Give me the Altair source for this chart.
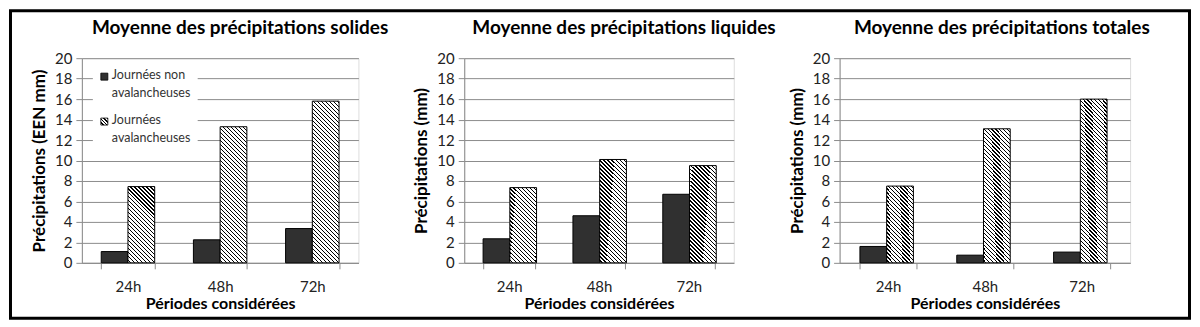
import math
import altair as alt
import pandas as pd

# ---------------- data ----------------
periods = ["24h", "48h", "72h"]
series_names = ["Journées non avalancheuses", "Journées avalancheuses"]
legend_labels = ["Journées non\navalancheuses", "Journées\navalancheuses"]

titles = [
    "Moyenne des précipitations solides",
    "Moyenne des précipitations liquides",
    "Moyenne des précipitations totales",
]
y_titles = ["Précipitations (EEN mm)", "Précipitations (mm)", "Précipitations (mm)"]
x_title = "Périodes considérées"

solid_non = [1.1, 2.25, 3.35]
solid_aval = [7.45, 13.3, 15.8]
liquid_non = [2.35, 4.6, 6.7]
liquid_aval = [7.35, 10.1, 9.5]
total_non = [1.6, 0.75, 1.05]
total_aval = [7.5, 13.1, 16.0]

y_ticks = list(range(0, 21, 2))

# ---------------- style ----------------
FONT = "Lato"
GRID = "#8c8c8c"
DARK = "#303030"
PLOT_H = 205
WIDTHS = [277, 270, 291]
TITLE_DX = [20, 25, 17]
PAD_IN = 0.42
PAD_OUT = 0.21
SPACING = 106


def hatch(w, h, period=2.828, line=1.0):
    """Diagonal '\\' hatch built as a hard-stop linear gradient for a w x h box."""
    L = (w + h) / math.sqrt(2)
    t = (w + h) / (w * w + h * h)
    stops = [alt.GradientStop(offset=0, color="white")]
    s = period / 2
    while s < L:
        a = s / L
        b = min((s + line) / L, 1.0)
        stops += [
            alt.GradientStop(offset=a, color="white"),
            alt.GradientStop(offset=a, color="black"),
            alt.GradientStop(offset=b, color="black"),
            alt.GradientStop(offset=b, color="white"),
        ]
        s += period
    stops.append(alt.GradientStop(offset=1, color="white"))
    return alt.LinearGradient(
        gradient="linear", stops=stops, x1=0, y1=1, x2=t * w, y2=1 - t * h
    )


def panel(i, non, aval):
    W = WIDTHS[i]
    df = pd.DataFrame(
        {
            "period": periods * 2,
            "series": [series_names[0]] * 3 + [series_names[1]] * 3,
            "value": list(non) + list(aval),
        }
    )
    x = alt.X(
        "period:N",
        scale=alt.Scale(domain=periods, paddingInner=PAD_IN, paddingOuter=PAD_OUT),
        axis=alt.Axis(
            title=x_title,
            labelAngle=0,
            tickBand="extent",
            ticks=True,
            tickSize=6,
            tickColor=GRID,
            domainColor=GRID,
            labelFontSize=15,
            labelColor="#222222",
            labelPadding=11,
            titleFontSize=16,
            titleFontWeight="bold",
            titleColor="black",
            titlePadding=1,
            grid=False,
        ),
    )
    xo = alt.XOffset("series:N", scale=alt.Scale(domain=series_names))
    y = alt.Y(
        "value:Q",
        scale=alt.Scale(domain=[0, 20], nice=False),
        axis=alt.Axis(
            title=y_titles[i],
            values=y_ticks,
            grid=True,
            gridColor=GRID,
            domainColor=GRID,
            tickColor=GRID,
            tickSize=6,
            labelFontSize=15,
            labelColor="#222222",
            labelPadding=4,
            titleFontSize=17,
            titleFontWeight="bold",
            titleColor="black",
            titlePadding=6,
        ),
    )
    base = alt.Chart(df).encode(x=x, xOffset=xo, y=y)

    layers = [
        base.transform_filter(alt.datum.series == series_names[0]).mark_bar(
            fill=DARK, stroke="black", strokeWidth=1
        )
    ]
    bar_w = W / 3 * (1 - PAD_IN) / 2
    for p, v in zip(periods, aval):
        h = max(v / 20 * PLOT_H, 1)
        layers.append(
            base.transform_filter(
                (alt.datum.series == series_names[1]) & (alt.datum.period == p)
            ).mark_bar(fill=hatch(bar_w, h), stroke="black", strokeWidth=1)
        )

    # panel title as a text mark
    layers.append(
        alt.Chart(pd.DataFrame({"title": [titles[i]]}))
        .mark_text(
            align="center",
            baseline="middle",
            fontSize=19,
            fontWeight="bold",
            font=FONT,
            color="black",
        )
        .encode(text="title:N", x=alt.value(W / 2 + TITLE_DX[i]), y=alt.value(-30))
    )

    if i == 0:
        one = pd.DataFrame({"k": [0]})
        # legend background covering the grid
        layers.append(
            alt.Chart(one)
            .mark_rect(fill="white")
            .encode(x=alt.value(11), x2=alt.value(116), y=alt.value(9), y2=alt.value(91))
        )
        # legend symbols
        layers.append(
            alt.Chart(one)
            .mark_rect(fill=DARK, stroke="black", strokeWidth=0.8)
            .encode(x=alt.value(19), x2=alt.value(26), y=alt.value(15), y2=alt.value(22))
        )
        layers.append(
            alt.Chart(one)
            .mark_rect(fill=hatch(7, 7, 2.6, 1.0), stroke="black", strokeWidth=0.8)
            .encode(x=alt.value(19), x2=alt.value(26), y=alt.value(60), y2=alt.value(67))
        )
        for lab, ty in zip(legend_labels, [11, 56]):
            layers.append(
                alt.Chart(pd.DataFrame({"label": [lab]}))
                .mark_text(
                    align="left",
                    baseline="top",
                    fontSize=12.5,
                    font=FONT,
                    color="#333333",
                    lineBreak="\n",
                    lineHeight=18,
                )
                .encode(text="label:N", x=alt.value(30), y=alt.value(ty))
            )
        # outer frame around the whole figure
        layers.append(
            alt.Chart(one)
            .mark_rect(fill="transparent", stroke="black", strokeWidth=3)
            .encode(
                x=alt.value(-71.5),
                x2=alt.value(1109.5),
                y=alt.value(-47.5),
                y2=alt.value(260.5),
            )
        )

    return alt.layer(*layers).properties(width=W, height=PLOT_H)


chart = (
    alt.hconcat(
        panel(0, solid_non, solid_aval),
        panel(1, liquid_non, liquid_aval),
        panel(2, total_non, total_aval),
        spacing=SPACING,
        bounds="flush",
    )
    .properties(padding=0, background="white")
    .configure_view(stroke=None)
    .configure(font=FONT)
)

chart.save("out.html", embed_options={"renderer": "svg", "actions": False})
